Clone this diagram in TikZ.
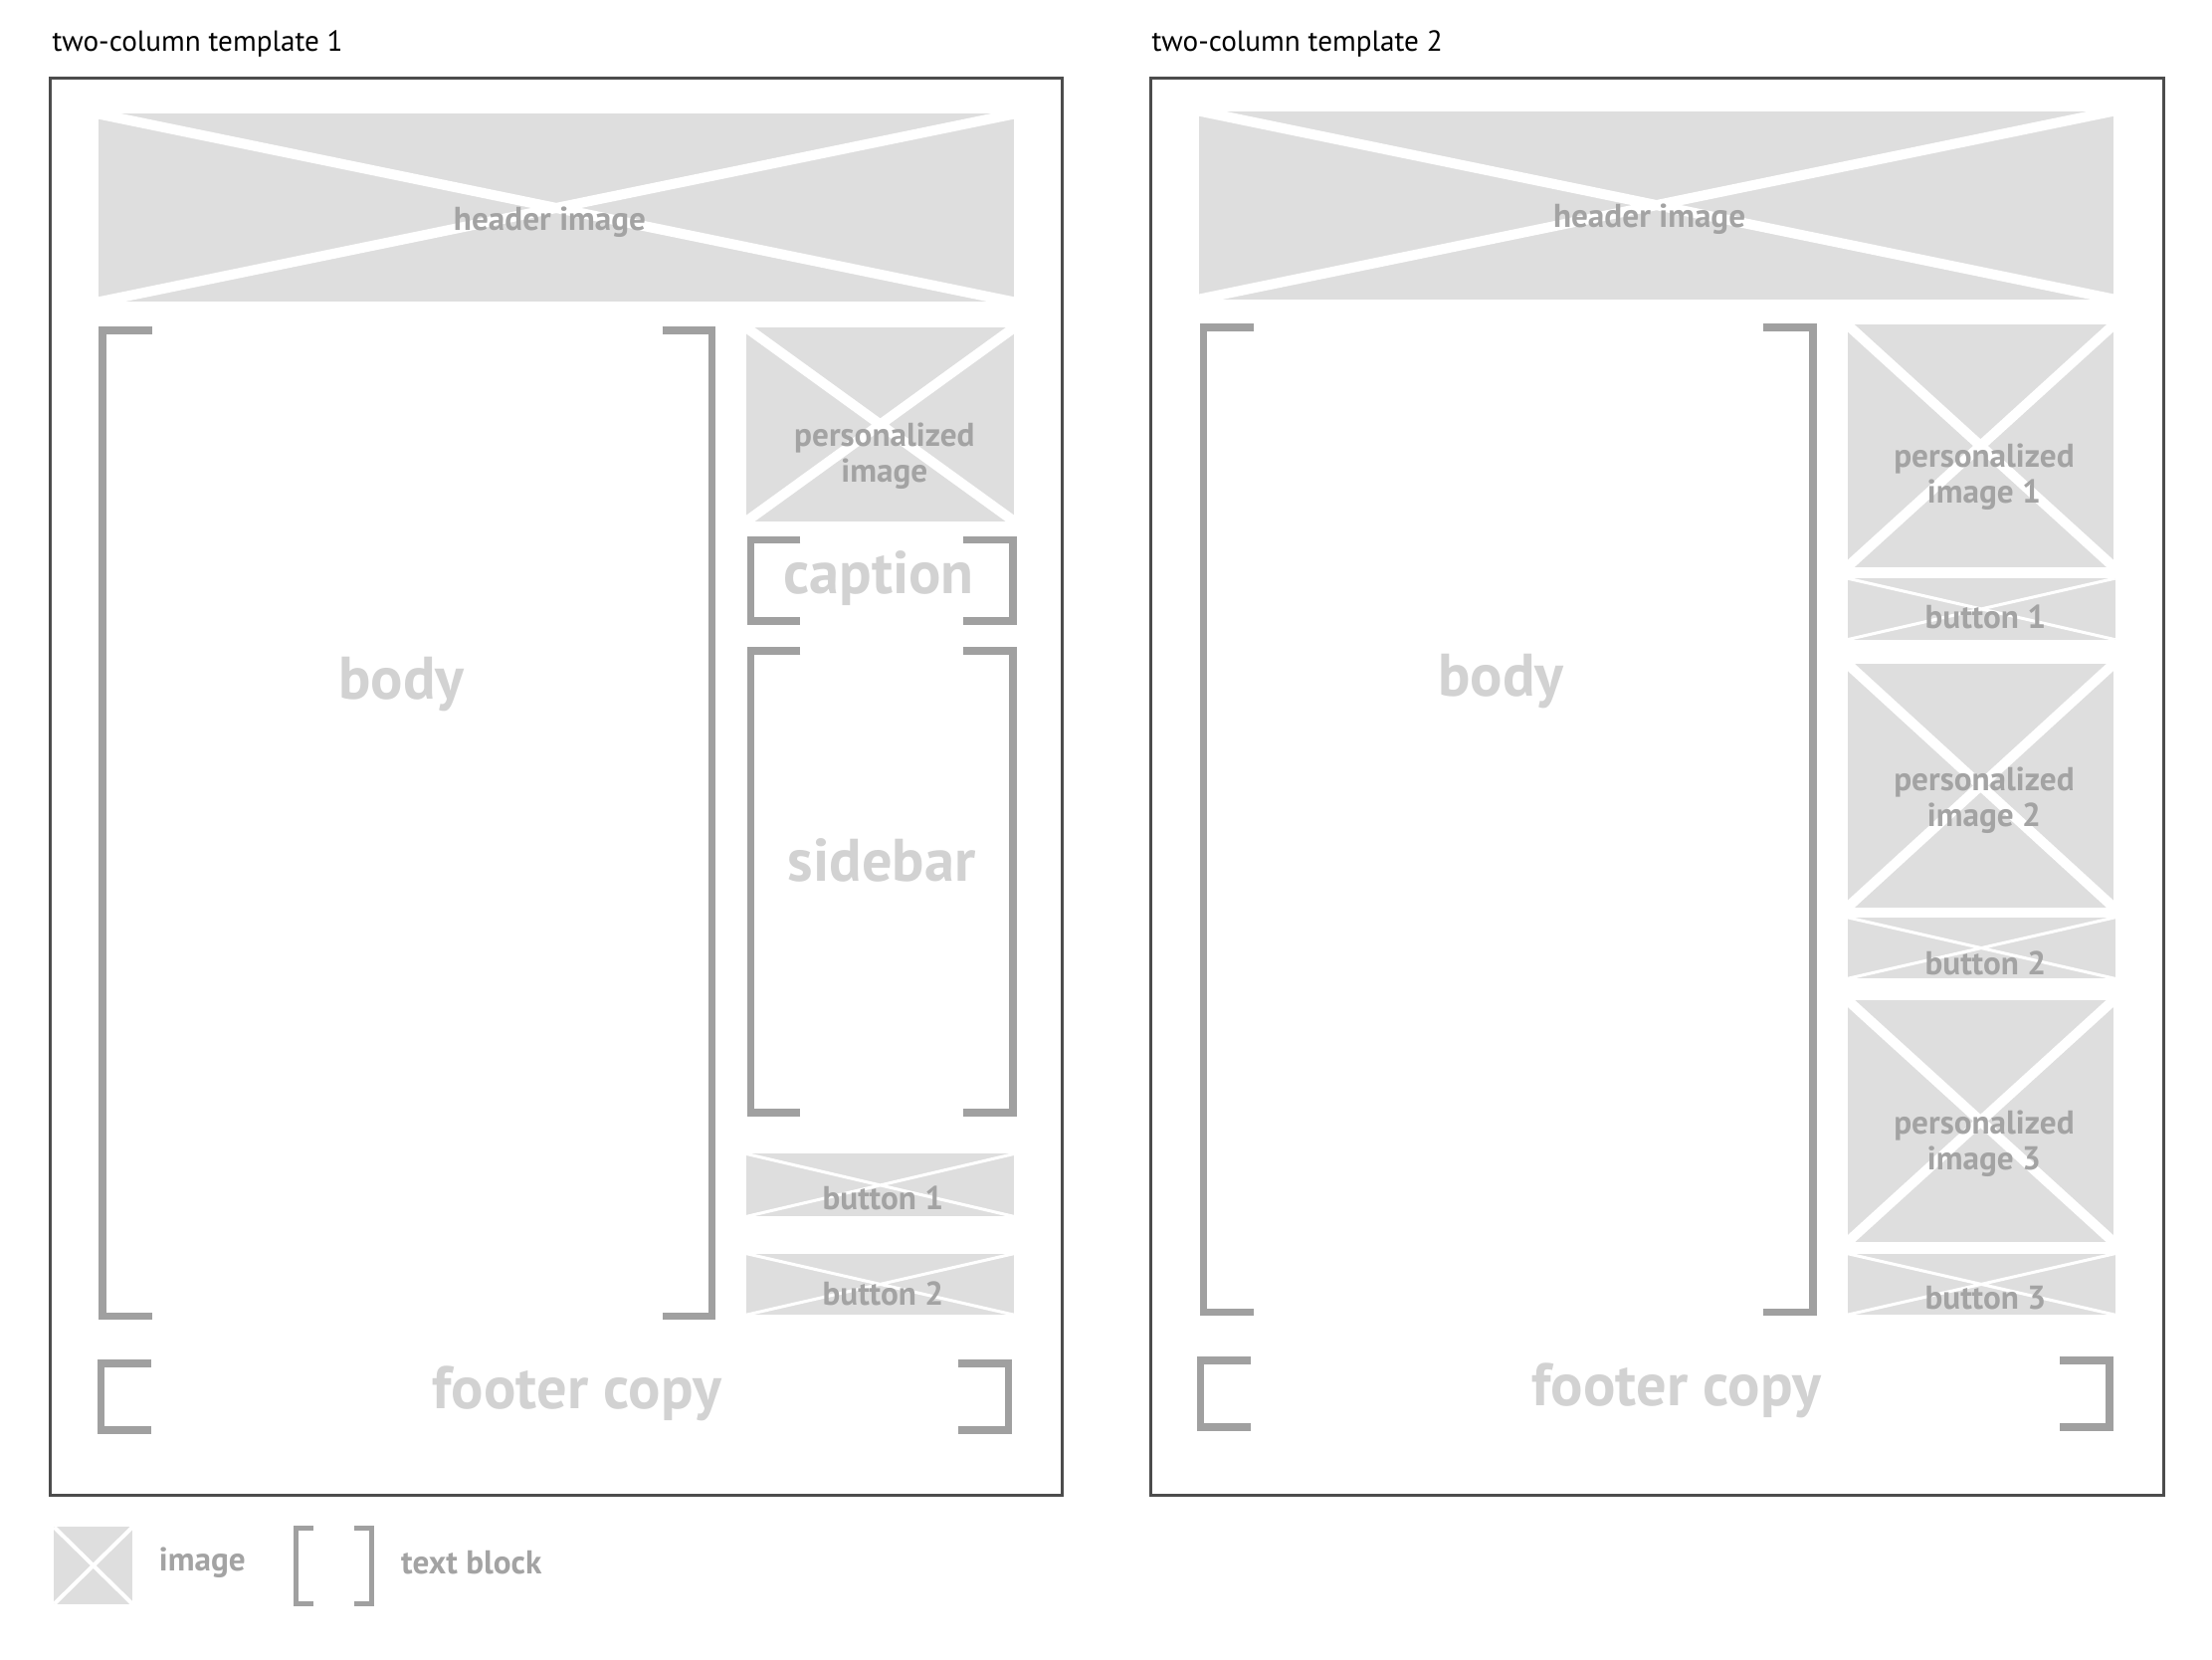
\documentclass[tikz,border=0pt]{standalone}
\usepackage{fontspec}
\setmainfont{PT Sans}
\usetikzlibrary{positioning}
\definecolor{imgfill}{HTML}{DEDEDE}
\definecolor{lbl}{HTML}{A3A3A3}
\definecolor{biglbl}{HTML}{D2D2D2}
\definecolor{brk}{HTML}{A0A0A0}
\tikzset{
  frame/.style={draw=black!70, line width=0.6pt},
  cross/.style={draw=white, line width=#1},
  bracket/.style={draw=brk, line width=1.5pt},
  smalllabel/.style={text=lbl, font=\fontsize{6.6}{7.2}\selectfont\bfseries, align=center, inner sep=0pt},
  biglabel/.style={text=biglbl, font=\fontsize{12}{13}\selectfont\bfseries, inner sep=0pt},
  title/.style={font=\fontsize{5.8}{7}\selectfont, anchor=west, inner sep=0pt}
}
% image placeholder: x1, y1, x2, y2, cross width
\newcommand{\imgph}[5]{%
  \fill[imgfill] (#1,#2) rectangle (#3,#4);
  \draw[cross=#5] (#1,#2) -- (#3,#4) (#1,#4) -- (#3,#2);
}
% text block bracket: x1, y1, x2, y2
\newcommand{\txtblk}[4]{%
  \draw[bracket] (#1+35,#2) -- (#1,#2) -- (#1,#4) -- (#1+35,#4);
  \draw[bracket] (#3-35,#2) -- (#3,#2) -- (#3,#4) -- (#3-35,#4);
}
\begin{document}
\begin{tikzpicture}[x=0.01cm, y=-0.01cm]
  \useasboundingbox (0,0) rectangle (1553,1165);

  % template 1
  \node[title] (t1) at (36,31) {two-column template 1};
  \draw[frame] (35,55) rectangle (746,1050);
  \imgph{69}{80}{712}{212}{2pt}
  \node[smalllabel] (hdr1) at (386,156) {header image};
  \txtblk{72}{232}{500}{924}
  \node[biglabel] (body1) at (282,480) {body};
  \imgph{524}{230}{712}{366}{2pt}
  \node[smalllabel] (pimg) at (621,320) {personalized\\image};
  \txtblk{527}{379}{711}{436}
  \node[biglabel] (cap) at (617,406) {caption};
  \txtblk{527}{457}{711}{781}
  \node[biglabel] (side) at (619,604) {sidebar};
  \imgph{524}{810}{712}{854}{0.6pt}
  \node[smalllabel] (b11) at (620,841) {button 1};
  \imgph{524}{880}{712}{923}{0.6pt}
  \node[smalllabel] (b12) at (620,908) {button 2};
  \txtblk{71}{957}{708}{1004}
  \node[biglabel] (foot1) at (405,978) {footer copy};

  % template 2
  \node[title] (t2) at (808,31) {two-column template 2};
  \draw[frame] (808,55) rectangle (1519,1050);
  \imgph{842}{78}{1484}{210}{2pt}
  \node[smalllabel] (hdr2) at (1158,154) {header image};
  \txtblk{845}{230}{1273}{921}
  \node[biglabel] (body2) at (1054,478) {body};
  \imgph{1297}{228}{1484}{398}{2pt}
  \node[smalllabel] (p1) at (1393,335) {personalized\\image 1};
  \imgph{1297}{406}{1485}{449}{0.6pt}
  \node[smalllabel] (b21) at (1394,433) {button 1};
  \imgph{1297}{466}{1484}{637}{2pt}
  \node[smalllabel] (p2) at (1393,562) {personalized\\image 2};
  \imgph{1297}{644}{1485}{687}{0.6pt}
  \node[smalllabel] (b22) at (1394,676) {button 2};
  \imgph{1297}{702}{1484}{872}{2pt}
  \node[smalllabel] (p3) at (1393,803) {personalized\\image 3};
  \imgph{1297}{880}{1485}{923}{0.6pt}
  \node[smalllabel] (b23) at (1394,911) {button 3};
  \txtblk{843}{955}{1481}{1002}
  \node[biglabel] (foot2) at (1177,976) {footer copy};

  % legend
  \imgph{38}{1072}{93}{1126}{0.8pt}
  \node[smalllabel, anchor=west] (limg) at (111,1097) {image};
  \draw[bracket, line width=1pt] (220,1073) -- (208,1073) -- (208,1126) -- (220,1126);
  \draw[bracket, line width=1pt] (249,1073) -- (261,1073) -- (261,1126) -- (249,1126);
  \node[smalllabel, anchor=west] (ltxt) at (281,1097) {text block};
\end{tikzpicture}
\end{document}
